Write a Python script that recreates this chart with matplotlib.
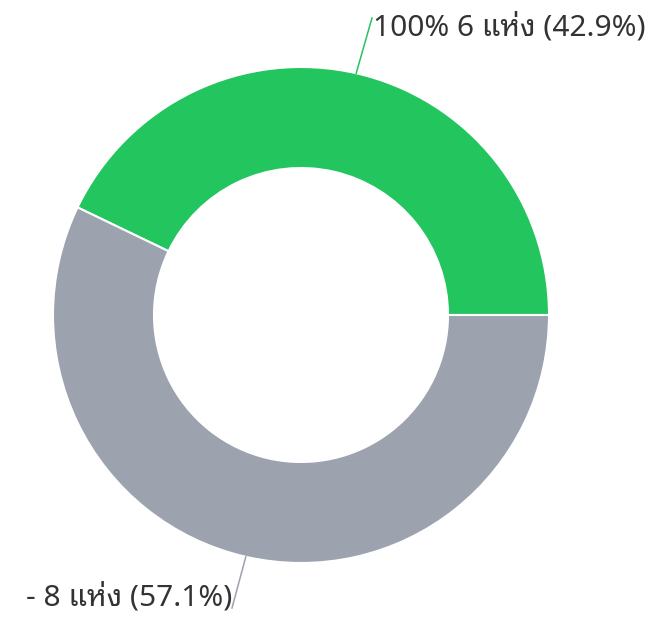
import matplotlib
matplotlib.use("Agg")
import matplotlib.pyplot as plt
import numpy as np
from matplotlib import font_manager
from matplotlib.ft2font import FT2Font

labels = ["100%", "-"]
counts = [6, 8]
percents = [42.9, 57.1]
colors = ["#22C55E", "#9CA3AF"]
unit = "แห่ง"

# find fonts that cover Thai
thai_fonts = set()
for f in font_manager.fontManager.ttflist:
    try:
        cm = FT2Font(f.fname).get_charmap()
        if 0x0E41 in cm and 0x0E2B in cm and 0x0E48 in cm:
            thai_fonts.add(f.name)
    except Exception:
        pass
preferred = ["Noto Sans Thai Looped", "Sarabun", "Tahoma", "Leelawadee UI",
             "Noto Sans Thai", "IBM Plex Sans Thai Looped", "IBM Plex Sans Thai"]
thai_pick = [p for p in preferred if p in thai_fonts] or sorted(thai_fonts)
family = ["Noto Sans"] + thai_pick[:1] + ["DejaVu Sans"]

W, H = 653, 619
fig = plt.figure(figsize=(W / 100, H / 100), dpi=100)
ax = fig.add_axes([0, 0, 1, 1])

cx, cy, R, width = 301, H - 315, 248, 101
ax.pie(counts, colors=colors, startangle=0, counterclock=True,
       center=(cx, cy), radius=R, frame=True,
       wedgeprops=dict(width=width, edgecolor="white", linewidth=1.5))
ax.set_xlim(0, W)
ax.set_ylim(0, H)
ax.axis("off")

total = sum(counts)
start = 0
ends = [(372, H - 18), (232, H - 608)]
baselines = [H - 35, H - 606]
for i, (lab, c, p) in enumerate(zip(labels, counts, percents)):
    ang = start + c / total * 360 / 2
    start += c / total * 360
    a = np.deg2rad(ang)
    x0, y0 = cx + R * np.cos(a), cy + R * np.sin(a)
    x1, y1 = ends[i]
    ax.plot([x0, x1], [y0, y1], color=colors[i], lw=1.1)
    ax.text(x1 + (1 if i == 0 else 0), baselines[i], f"{lab} {c} {unit} ({p}%)",
            ha="left" if i == 0 else "right", va="baseline",
            fontsize=21.5, color="#333333", family=family)

fig.savefig("out.png", dpi=100)
